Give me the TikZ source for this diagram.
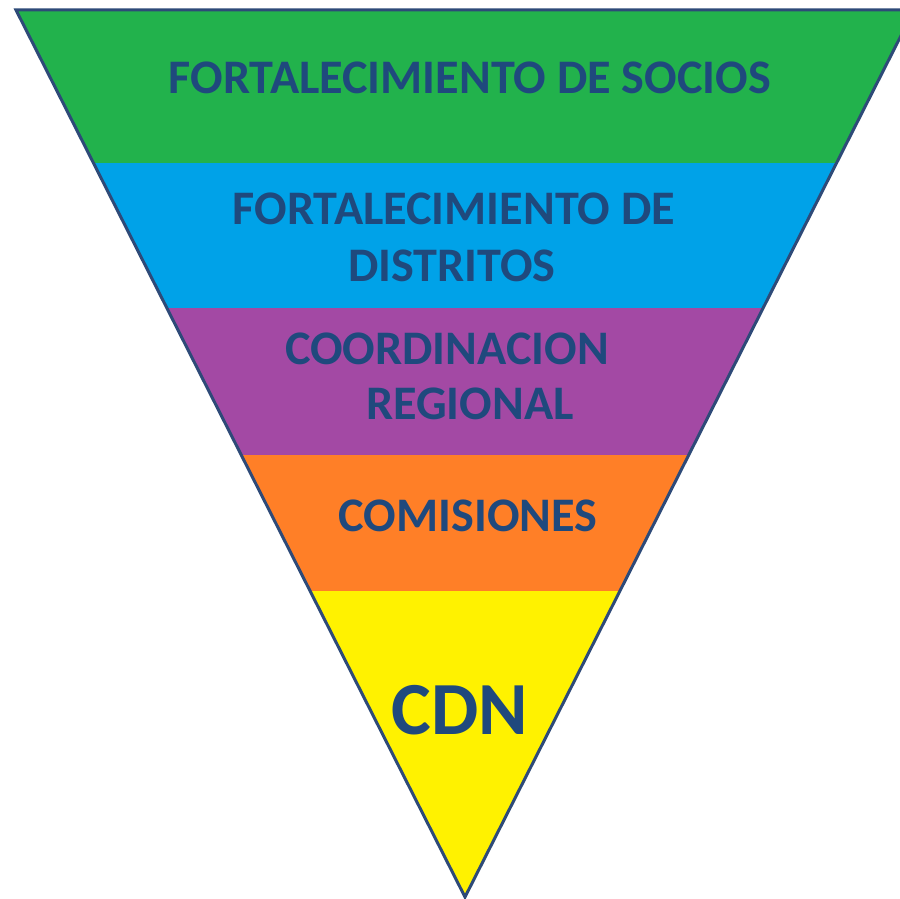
\documentclass[tikz,border=0pt]{standalone}
\usepackage{fontspec}
\setmainfont{Carlito}
\definecolor{bandgreen}{HTML}{22B24C}
\definecolor{bandblue}{HTML}{00A2E8}
\definecolor{bandpurple}{HTML}{A349A4}
\definecolor{bandorange}{HTML}{FF7F27}
\definecolor{bandyellow}{HTML}{FFF200}
\definecolor{txtblue}{HTML}{1F497D}
\definecolor{edgeblue}{HTML}{2E4A78}
\begin{document}
\begin{tikzpicture}[x=1pt,y=-1pt,
  lbl/.style={anchor=base,inner sep=0pt,text=txtblue,font=\fontsize{48.2}{52}\selectfont\bfseries},
  biglbl/.style={anchor=base,inner sep=0pt,text=txtblue,font=\fontsize{75}{80}\selectfont\bfseries}]
\clip (0,0) rectangle (900,899);
\fill[white] (0,0) rectangle (900,899);
\coordinate (tl) at (16,10);
\coordinate (tr) at (914,10);
\coordinate (ap) at (465,897);
\begin{scope}
  \clip (tl) -- (tr) -- (ap) -- cycle;
  \fill[bandgreen] (0,0) rectangle (920,163);
  \fill[bandblue] (0,163) rectangle (920,308);
  \fill[bandpurple] (0,308) rectangle (920,455);
  \fill[bandorange] (0,455) rectangle (920,591);
  \fill[bandyellow] (0,591) rectangle (920,899);
\end{scope}
\draw[edgeblue,line width=3pt,line join=miter] (tl) -- (tr) -- (ap) -- cycle;
\node[lbl] (socios) at (470,94) {FORTALECIMIENTO DE SOCIOS};
\node[lbl] (distr1) at (454,224) {FORTALECIMIENTO DE};
\node[lbl] (distr2) at (452,281) {DISTRITOS};
\node[lbl] (coord1) at (447,364) {COORDINACION};
\node[lbl] (coord2) at (470,419) {REGIONAL};
\node[lbl] (comis) at (468,531) {COMISIONES};
\node[biglbl] (cdn) at (460,734) {CDN};
\end{tikzpicture}
\end{document}
